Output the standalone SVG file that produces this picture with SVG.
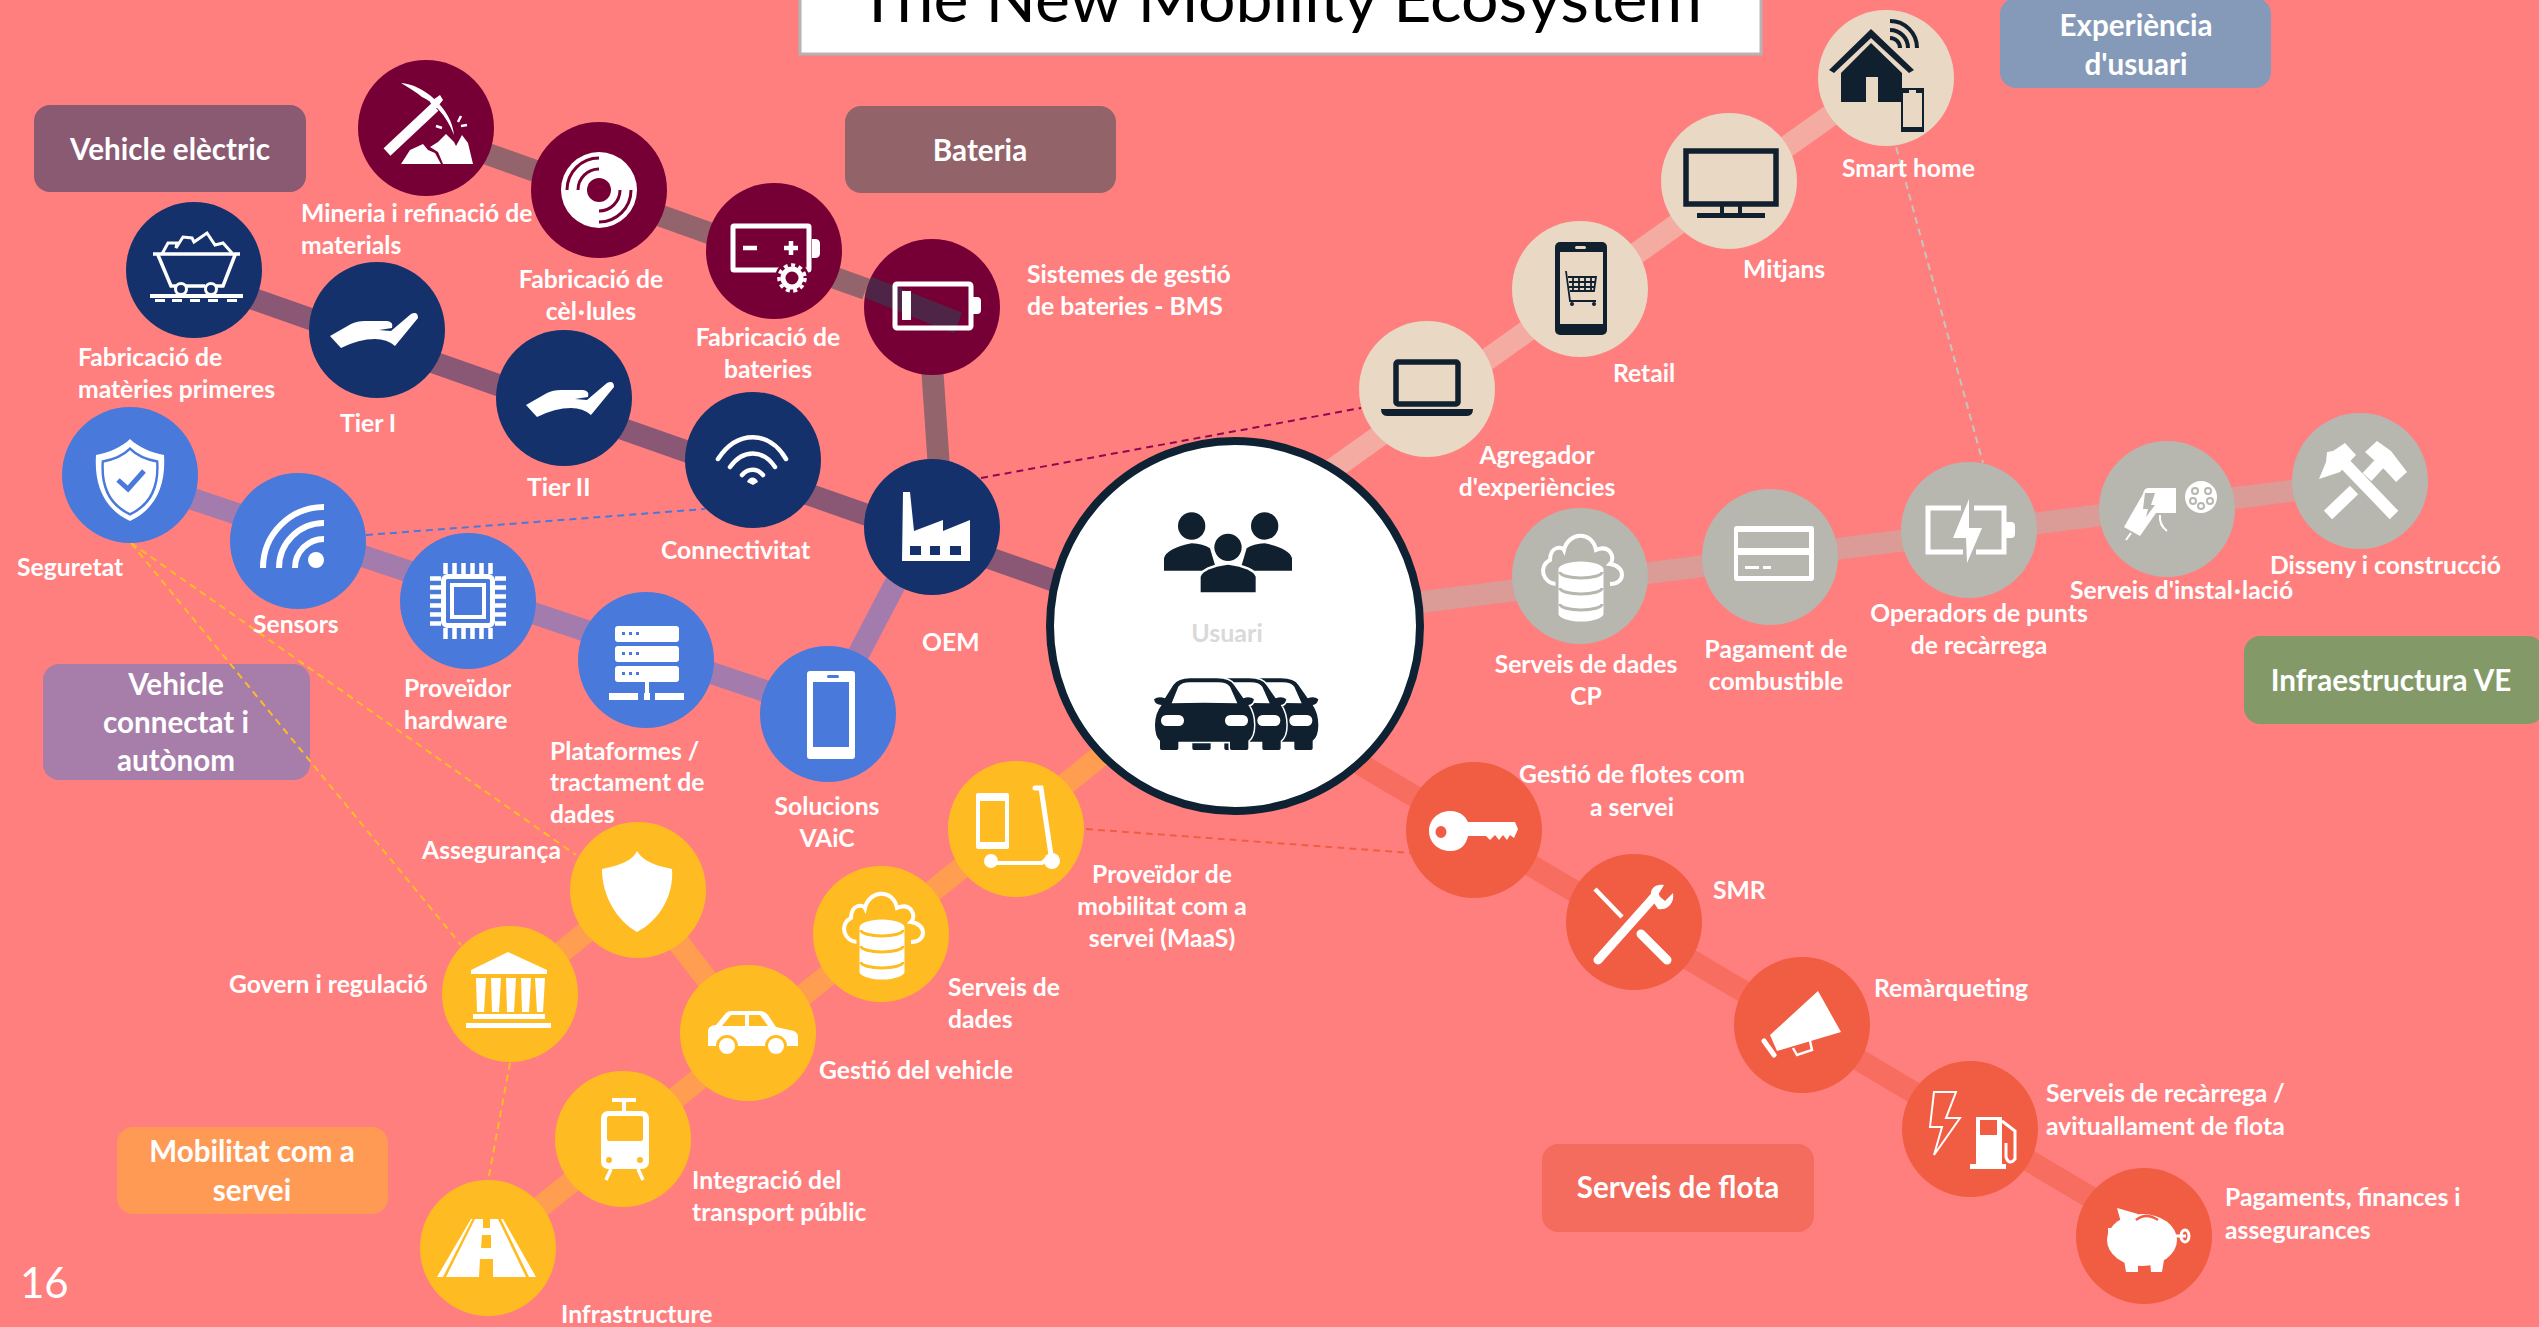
<svg xmlns="http://www.w3.org/2000/svg" xmlns:xlink="http://www.w3.org/1999/xlink" width="2539" height="1327" viewBox="0 0 2539 1327">
<style>
text{font-family:Lato,"Liberation Sans",sans-serif}
.l{font-size:24.7px;font-weight:700;fill:#fff}
.m{text-anchor:middle}
.b{font-size:29.6px;font-weight:700;fill:#fff;text-anchor:middle}
.box{stroke:none}
.d{fill:currentColor}
.ic{fill:#fff}
.s{fill:none;stroke:#fff}
.dk .ic{fill:#10202f}
.dk .s{stroke:#10202f}
.dk .d{fill:currentColor}
.maroon{color:#760036}.navy{color:#15316b}.blue{color:#4879db}.yellow{color:#ffbc22}.beige{color:#e9d8c4}.grey{color:#b7b7b0}.red{color:#f05d43}
.c{fill:none;stroke-width:22;stroke-opacity:.5}
.cm{stroke:#274a58}.cn{stroke:#15316b}.cb{stroke:#4879db}.cy{stroke:#ffbc22}.cg{stroke:#e9d8c4}.cgr{stroke:#b7b7b0}.cr{stroke:#f05d43}
.dash{fill:none;stroke-width:2;stroke-dasharray:7 5}
</style>
<defs>
<clipPath id="bmsclip"><circle cx="932" cy="307" r="68"/></clipPath>
<g id="hand"><path d="M-47,6 L-26,-6 Q-20,-9 -12,-9 L10,-9 Q17,-8 15,-2 L2,0 L14,1 L34,-16 Q41,-19 41,-12 L18,16 Q10,9 -2,9 Q-18,9 -36,18 Z"/></g>
<g id="dbcloud">
<path class="s" stroke-width="4" d="M-22,8 C-38,8 -42,-10 -30,-16 C-30,-30 -18,-30 -16,-26 C-12,-44 12,-46 16,-26 C30,-32 36,-18 30,-12 C46,-10 46,8 30,8"/>
<path d="M-23,-7 A24,9 0 0 1 25,-7 V38 A24,9 0 0 1 -23,38 Z" fill="#fff" stroke="currentColor" stroke-width="3"/>
<path d="M-20,-4 A21,6 0 0 0 22,-4 M-20,12 A21,6 0 0 0 22,12 M-20,28 A21,6 0 0 0 22,28" fill="none" stroke="currentColor" stroke-width="3"/>
</g>
<g id="car">
<path d="M480,775 H560 Q600,775 612,795 L640,835 Q660,828 672,838 Q668,855 655,855 Q672,880 672,915 Q672,950 655,962 V985 Q655,990 650,990 H605 Q600,990 600,985 V965 H445 V985 Q445,990 440,990 H395 Q390,990 390,985 V962 Q375,950 375,915 Q375,880 395,855 Q375,855 372,838 Q385,828 405,835 L430,795 Q445,775 480,775Z" fill="#10202f" stroke="#fff" stroke-width="9" paint-order="stroke"/>
<path d="M425,850 L445,800 Q455,787 480,787 H565 Q590,787 600,800 L622,850 Q520,846 425,850Z" fill="#fff"/>
<rect x="393" y="885" width="69" height="33" rx="16" fill="#fff"/>
<rect x="585" y="885" width="69" height="33" rx="16" fill="#fff"/>
</g>
</defs>
<rect width="2539" height="1327" fill="#ff7f7f"/>

<g id="title"><rect x="800" y="-6" width="961" height="60" fill="#fff" stroke="#b4b4b4" stroke-width="3"/><text x="858" y="22" font-size="64" textLength="844" lengthAdjust="spacingAndGlyphs" fill="#000">The New Mobility Ecosystem</text></g>

<g id="box-ve"><rect class="box" x="34" y="105" width="272" height="87" rx="16" fill="#8a5972"/><text class="b" x="170" y="160">Vehicle elèctric</text></g>
<g id="box-bateria"><rect class="box" x="845" y="106" width="271" height="87" rx="16" fill="#93636a"/><text class="b" x="980" y="161">Bateria</text></g>
<g id="box-cav"><rect class="box" x="43" y="664" width="267" height="116" rx="16" fill="#a77daa"/><text class="b"><tspan x="176" y="695">Vehicle</tspan><tspan x="176" y="733">connectat i</tspan><tspan x="176" y="771">autònom</tspan></text></g>
<g id="box-maas"><rect class="box" x="117" y="1127" width="271" height="87" rx="16" fill="#ff9a55"/><text class="b"><tspan x="252" y="1162">Mobilitat com a</tspan><tspan x="252" y="1201">servei</tspan></text></g>
<g id="box-ux"><rect class="box" x="2000" y="-2" width="271" height="90" rx="16" fill="#8599b8"/><text class="b"><tspan x="2136" y="36">Experiència</tspan><tspan x="2136" y="75">d'usuari</tspan></text></g>
<g id="box-infra"><rect class="box" x="2244" y="636" width="300" height="88" rx="16" fill="#839a68"/><text class="b" x="2391" y="691">Infraestructura VE</text></g>
<g id="box-flota"><rect class="box" x="1542" y="1144" width="272" height="88" rx="16" fill="#f46c5e"/><text class="b" x="1678" y="1198">Serveis de flota</text></g>

<g id="connectors">
<path class="c cm" d="M426,132 L866,289"/>
<path class="c cm" d="M928,307 L943,527"/>
<path class="c cn" d="M194,278 L1100,597"/>
<path class="c cb" d="M130,478 L828,712"/>
<path class="c cb" d="M826,716 L925,527"/>
<path class="c cy" d="M488,1249 L1150,716"/>
<path class="c cy" d="M510,994 L638,890 L748,1033"/>
<path class="c cg" d="M1240,535 L1886,76"/>
<path class="c cgr" d="M1235,626 L2360,482"/>
<path class="c cr" d="M1235,690 L2144,1229"/>
<path class="dash" stroke="#8b0a50" d="M981,478 L1361,408"/>
<path class="dash" stroke="#4879db" d="M366,535 L705,509"/>
<path class="dash" stroke="#ffbc22" d="M131,543 L576,855 M131,543 L461,945 M510,1063 L488,1181"/>
<path class="dash" stroke="#f05d43" d="M1086,829 L1411,853"/>
<path class="dash" stroke="#c4c6be" d="M1893,136 L1983,463"/>
</g>

<g id="n-bms" class="maroon"><circle class="d" cx="932" cy="307" r="68"/>
<path class="c cm" clip-path="url(#bmsclip)" d="M850,280 L958,323"/>
<g class="ic" transform="translate(932,307)"><rect class="s" x="-37" y="-23" width="76" height="44" rx="2" stroke-width="5"/><path d="M41,-10 h4 q4,0 4,4 v9 q0,4 -4,4 h-4z"/><rect x="-30" y="-16" width="9" height="29"/></g>
<text class="l"><tspan x="1027" y="283">Sistemes de gestió</tspan><tspan x="1027" y="315">de bateries - BMS</tspan></text></g>

<g id="n-mining" class="maroon"><circle class="d" cx="426" cy="128" r="68"/>
<g class="ic" transform="translate(426,128)"><path class="s" stroke-width="10" d="M9,-21 L-39,24"/><path d="M-25,-45 C-4,-44 26,-20 28,7 C20,-14 6,-27 -4,-31 C-10,-36 -18,-41 -25,-45Z M4,-26 L14,-33 L17,-28 L9,-18Z"/><path d="M-25,36 L-16,22 L-3,16 L2,22 L9,25 L15,36Z M17,36 L12,24 L4,19 L12,14 L20,6 L28,14 L30,18 L36,7 L42,15 L47,36Z"/><path class="s" stroke-width="2.500" d="M32,-6 L35,-12 M35,-2 L41,-3 M10,-2 L16,0"/></g>
<text class="l"><tspan x="301" y="222">Mineria i refinació de</tspan><tspan x="301" y="254">materials</tspan></text></g>

<g id="n-cells" class="maroon"><circle class="d" cx="599" cy="190" r="68"/>
<g transform="translate(599,190)"><circle r="38" fill="#fff"/><circle r="12" fill="currentColor"/><path d="M-32,0 A32,32 0 0 1 0,-32 M-21,0 A21,21 0 0 1 0,-21 M32,0 A32,32 0 0 1 0,32 M21,0 A21,21 0 0 1 0,21" fill="none" stroke="currentColor" stroke-width="3"/></g>
<text class="l m"><tspan x="591" y="288">Fabricació de</tspan><tspan x="591" y="320">cèl<tspan dx="2">·</tspan><tspan dx="2">lules</tspan></tspan></text></g>

<g id="n-battery" class="maroon"><circle class="d" cx="774" cy="251" r="68"/>
<g class="ic" transform="translate(774,251)"><rect class="s" x="-41" y="-25" width="76" height="44" rx="1" stroke-width="5"/><path d="M38,-12 h3 q5,0 5,5 v9 q0,5 -5,5 h-3z"/><path class="s" stroke-width="4.500" d="M-31,-3 H-17 M10,-3 H24 M17,-10 V4"/><circle cx="18" cy="27" r="17" fill="currentColor"/><circle class="s" cx="18" cy="27" r="9" stroke-width="5"/><circle class="s" cx="18" cy="27" r="13" stroke-width="3.500" stroke-dasharray="4 3.500"/></g>
<text class="l m"><tspan x="768" y="346">Fabricació de</tspan><tspan x="768" y="378">bateries</tspan></text></g>

<g id="n-raw" class="navy"><circle class="d" cx="194" cy="270" r="68"/>
<g class="ic" transform="translate(194,270)"><path class="s" stroke-width="3" d="M-32,-16 L-26,-27 L-17,-27 L-18,-22 L-11,-33 L-2,-32 L0,-28 L13,-37 L21,-25 L29,-27 L38,-17"/><path class="s" stroke-width="3.500" d="M-41,-16 H46 M-36,-15 L-23,16 H-18 M-8,16 H11 M22,16 H29 L41,-15"/><circle class="s" cx="-13" cy="19" r="5.500" stroke-width="3"/><circle class="s" cx="17" cy="19" r="5.500" stroke-width="3"/><path d="M-44,24 H49 V28 H-44Z M-39,29 h10 v3 h-10z M-22,29 h10 v3 h-10z M-4,29 h10 v3 h-10z M14,29 h10 v3 h-10z M33,29 h10 v3 h-10z"/></g>
<text class="l"><tspan x="78" y="366">Fabricació de</tspan><tspan x="78" y="398">matèries primeres</tspan></text></g>

<g id="n-tier1" class="navy"><circle class="d" cx="377" cy="330" r="68"/>
<g class="ic" transform="translate(377,330)"><use xlink:href="#hand" href="#hand"/></g><text class="l" x="340" y="432">Tier I</text></g>
<g id="n-tier2" class="navy"><circle class="d" cx="564" cy="398" r="68"/>
<g class="ic" transform="translate(573,399)"><use xlink:href="#hand" href="#hand"/></g><text class="l" x="527" y="496">Tier II</text></g>

<g id="n-conn" class="navy"><circle class="d" cx="753" cy="460" r="68"/>
<g class="ic" transform="translate(753,460)"><path class="s" stroke-width="4.500" stroke-linecap="round" d="M-35,-1 C-16,-30 16,-30 33,-1 M-23,7 C-10,-11 10,-11 22,7 M-11,15 C-5,8 4,8 10,15"/><path d="M-6,22 C-4,16 3,16 5,22 L0,25Z"/></g>
<text class="l" x="661" y="559">Connectivitat</text></g>

<g id="n-oem" class="navy"><circle class="d" cx="932" cy="527" r="68"/>
<g class="ic" transform="translate(932,527)"><path d="M-30,34 L-29,-35 L-22,-35 L-18,4 L11,-7 V4 L38,-7 V34Z"/><path fill="currentColor" d="M-22,19 h11 v9 h-11z M-2,19 h10 v9 h-10z M18,19 h11 v9 h-11z"/></g>
<text class="l" x="922" y="651">OEM</text></g>

<g id="n-security" class="blue"><circle class="d" cx="130" cy="475" r="68"/>
<g class="ic" transform="translate(130,475)"><path d="M0,-36 C8,-28 22,-22 34,-20 C36,10 26,34 0,46 C-26,34 -36,10 -34,-20 C-22,-22 -8,-28 0,-36Z"/><path d="M0,-36 C8,-28 22,-22 34,-20 C36,10 26,34 0,46 C-26,34 -36,10 -34,-20 C-22,-22 -8,-28 0,-36Z" transform="translate(0,2.500) scale(.8)" fill="none" stroke="currentColor" stroke-width="3"/><path d="M-12,5 L-2,14 L14,-4" fill="none" stroke="currentColor" stroke-width="5"/></g>
<text class="l" x="17" y="576">Seguretat</text></g>

<g id="n-sensors" class="blue"><circle class="d" cx="298" cy="541" r="68"/>
<g class="ic" transform="translate(298,541)"><circle cx="18" cy="19" r="8"/><path class="s" stroke-width="6" d="M-35,27 A61,61 0 0 1 26,-34 M-19,27 A45,45 0 0 1 26,-18 M-3,27 A29,29 0 0 1 26,-2"/></g>
<text class="l" x="253" y="633">Sensors</text></g>

<g id="n-hw" class="blue"><circle class="d" cx="468" cy="601" r="68"/>
<g class="ic" transform="translate(468,601)"><rect class="s" x="-24.500" y="-24.500" width="49" height="49" rx="4" stroke-width="5"/><rect class="s" x="-16" y="-16" width="32" height="32" stroke-width="4"/><path class="s" stroke-width="4.500" d="M-38,-22.500 H-27 M-38,-13.500 H-27 M-38,-4.500 H-27 M-38,4.500 H-27 M-38,13.500 H-27 M-38,22.500 H-27 M38,-22.500 H27 M38,-13.500 H27 M38,-4.500 H27 M38,4.500 H27 M38,13.500 H27 M38,22.500 H27 M-22.500,-38 V-27 M-13.500,-38 V-27 M-4.500,-38 V-27 M4.500,-38 V-27 M13.500,-38 V-27 M22.500,-38 V-27 M-22.500,38 V27 M-13.500,38 V27 M-4.500,38 V27 M4.500,38 V27 M13.500,38 V27 M22.500,38 V27"/></g>
<text class="l"><tspan x="404" y="697">Proveïdor</tspan><tspan x="404" y="729">hardware</tspan></text></g>

<g id="n-platform" class="blue"><circle class="d" cx="646" cy="660" r="68"/>
<g class="ic" transform="translate(646,660)"><rect x="-31" y="-34" width="64" height="16" rx="3"/><rect x="-31" y="-14" width="64" height="16" rx="3"/><rect x="-31" y="6" width="64" height="16" rx="3"/><path fill="currentColor" d="M-24,-28h3v3h-3z M-17,-28h3v3h-3z M-10,-28h3v3h-3z M-24,-8h3v3h-3z M-17,-8h3v3h-3z M-10,-8h3v3h-3z M-24,12h3v3h-3z M-17,12h3v3h-3z M-10,12h3v3h-3z"/><path d="M-1,22h4v11h-4z M-37,33h29v7h-29z M-2,33h6v7h-6z M9,33h29v7h-29z"/></g>
<text class="l"><tspan x="550" y="760">Plataformes /</tspan><tspan x="550" y="791">tractament de</tspan><tspan x="550" y="823">dades</tspan></text></g>

<g id="n-vaic" class="blue"><circle class="d" cx="828" cy="714" r="68"/>
<g class="ic" transform="translate(828,714)"><rect x="-21" y="-43" width="48" height="88" rx="3"/><rect x="-15" y="-32" width="36" height="65" fill="currentColor"/><rect x="-1" y="-39" width="12" height="3" rx="1.500" fill="currentColor"/></g>
<text class="l m"><tspan x="827" y="815">Solucions</tspan><tspan x="827" y="847">VAiC</tspan></text></g>

<g id="n-ins" class="yellow"><circle class="d" cx="638" cy="890" r="68"/>
<g class="ic" transform="translate(638,890)"><path d="M-1,-39 C5,-28 20,-24 34,-21 C36,5 22,30 -1,42 C-22,30 -36,5 -36,-21 C-22,-24 -6,-28 -1,-39Z"/></g>
<text class="l" x="422" y="859">Assegurança</text></g>

<g id="n-gov" class="yellow"><circle class="d" cx="510" cy="994" r="68"/>
<g class="ic" transform="translate(510,994)"><path d="M-39,-24 L-2,-42 L37,-24 V-20 H-39Z M-37,20 H35 V25 H-37Z M-44,29 H41 V34 H-44Z"/><path d="M-34,-16 H-24 L-26,18 H-33Z M-19,-16 H-9 L-11,18 H-18Z M-4,-16 H6 L4,18 H-3Z M11,-16 H21 L19,18 H12Z M25,-16 H35 L33,18 H27Z"/></g>
<text class="l" x="229" y="993">Govern i regulació</text></g>

<g id="n-vehicle" class="yellow"><circle class="d" cx="748" cy="1033" r="68"/>
<g class="ic" transform="translate(748,1033)"><path d="M-40,13 V-3 Q-38,-8 -32,-8 L-22,-20 Q-20,-22 -16,-22 H12 Q17,-22 20,-18 L28,-6 L46,-2 Q50,0 50,4 V13Z"/><path fill="currentColor" d="M-26,-7 L-17,-18 H-3 V-7Z M1,-18 H12 L20,-7 H1Z"/><circle cx="-21" cy="13" r="11" fill="currentColor"/><circle cx="28" cy="13" r="11" fill="currentColor"/><circle cx="-21" cy="13" r="8"/><circle cx="28" cy="13" r="8"/></g>
<text class="l" x="819" y="1079">Gestió del vehicle</text></g>

<g id="n-data" class="yellow"><circle class="d" cx="881" cy="934" r="68"/>
<g transform="translate(881,934)"><use xlink:href="#dbcloud" href="#dbcloud"/></g>
<text class="l"><tspan x="948" y="996">Serveis de</tspan><tspan x="948" y="1028">dades</tspan></text></g>

<g id="n-mobility" class="yellow"><circle class="d" cx="1016" cy="829" r="68"/>
<g class="ic" transform="translate(1016,829)"><rect x="-40" y="-36" width="33" height="56" rx="2"/><rect x="-36" y="-28" width="25" height="41" fill="currentColor"/><path class="s" stroke-width="5" stroke-linecap="round" d="M19,-41 H25 L35,26"/><path class="s" stroke-width="4" d="M-20,34 H26 L35,26"/><circle cx="-25" cy="32" r="7"/><circle cx="36" cy="32" r="8"/></g>
<text class="l m"><tspan x="1162" y="883">Proveïdor de</tspan><tspan x="1162" y="915">mobilitat com a</tspan><tspan x="1162" y="947">servei (MaaS)</tspan></text></g>

<g id="n-public" class="yellow"><circle class="d" cx="623" cy="1139" r="68"/>
<g class="ic" transform="translate(623,1139)"><path class="s" stroke-width="4" d="M-11,-39 H13 M1,-39 V-28"/><rect x="-22" y="-28" width="48" height="58" rx="7"/><rect x="-16" y="-23" width="36" height="25" rx="2" fill="currentColor"/><circle cx="-14" cy="21" r="3" fill="currentColor"/><circle cx="17" cy="21" r="3" fill="currentColor"/><path class="s" stroke-width="3.500" d="M-12,30 L-17,41 M15,30 L20,41"/></g>
<text class="l"><tspan x="692" y="1189">Integració del</tspan><tspan x="692" y="1221">transport públic</tspan></text></g>

<g id="n-infra" class="yellow"><circle class="d" cx="488" cy="1248" r="68"/>
<g class="ic" transform="translate(488,1248)"><path fill-rule="evenodd" d="M-13,-29 H-5 V-20 H2 V-29 H10 L38,29 H5 V11 H-8 L-9,29 H-42Z M-6,-13 H3 V0 H-7Z M-17,-29 H-15.500 L-45,29 H-51Z M13,-29 H15 L48,29 H41Z"/></g>
<text class="l" x="561" y="1323">Infrastructure</text></g>

<g id="n-home" class="beige dk"><circle class="d" cx="1886" cy="78" r="68"/>
<g class="ic" transform="translate(1886,78)"><path d="M-15,-49 L28,-8 L23,-5 L-15,-40 L-52,-5 L-57,-8Z"/><path d="M-15,-35 L16,-5 V24 H-8 V-1 H-20 V24 H-45 V-5Z"/><path fill-rule="evenodd" d="M15,10 H38 V54 H15Z M17,15 V49 H36 V15Z M23,12 V15 H30 V12Z"/><path class="s" stroke-width="4" d="M4,-40 A10,10 0 0 1 14,-30 M4,-48 A18,18 0 0 1 22,-30 M4,-57 A27,27 0 0 1 31,-30"/></g>
<text class="l" x="1842" y="177">Smart home</text></g>

<g id="n-media" class="beige dk"><circle class="d" cx="1729" cy="181" r="68"/>
<g class="ic" transform="translate(1731,181)"><rect class="s" x="-45" y="-30" width="90" height="53" stroke-width="5.500"/><path d="M-11,25 H-7 V32 H7 V25 H11 V32 H34 V37 H-34 V32 H-11Z"/></g>
<text class="l" x="1743" y="278">Mitjans</text></g>

<g id="n-retail" class="beige dk"><circle class="d" cx="1580" cy="289" r="68"/>
<g class="ic" transform="translate(1581,289)"><rect x="-26" y="-47" width="52" height="93" rx="5"/><rect x="-21" y="-37" width="43" height="72" fill="currentColor"/><rect x="-6" y="-43" width="11" height="3" rx="1.500" fill="currentColor"/><path class="s" stroke-width="1.800" d="M-15,-18 L-11,12 H15 M-13,-12 H15 L13,2 H-11 M-8,-12 V2 M-2,-12 V2 M4,-12 V2 M10,-12 V2 M-12,-7 H14 M-12,-2 H14"/><circle cx="-9" cy="15" r="2"/><circle cx="13" cy="15" r="2"/></g>
<text class="l" x="1613" y="382">Retail</text></g>

<g id="n-agg" class="beige dk"><circle class="d" cx="1427" cy="389" r="68"/>
<g class="ic" transform="translate(1427,389)"><rect class="s" x="-31" y="-27" width="62" height="42" rx="2" stroke-width="5.500"/><path d="M-46,20 H46 Q46,27 40,27 H-40 Q-46,27 -46,20Z"/></g>
<text class="l m"><tspan x="1537" y="464">Agregador</tspan><tspan x="1537" y="496">d'experiències</tspan></text></g>

<g id="n-cpdata" class="grey"><circle class="d" cx="1580" cy="576" r="68"/>
<g transform="translate(1580,576)"><use xlink:href="#dbcloud" href="#dbcloud"/></g>
<text class="l m"><tspan x="1586" y="673">Serveis de dades</tspan><tspan x="1586" y="705">CP</tspan></text></g>

<g id="n-pay" class="grey"><circle class="d" cx="1770" cy="557" r="68"/>
<g transform="translate(1770,557)"><rect x="-36" y="-31" width="80" height="55" rx="3" fill="#fff"/><rect x="-32" y="-25" width="71" height="16" fill="currentColor"/><rect x="-32" y="-2" width="71" height="21" fill="currentColor"/><rect x="-25" y="9" width="14" height="3" fill="#fff"/><rect x="-7" y="9" width="8" height="3" fill="#fff"/></g>
<text class="l m"><tspan x="1776" y="658">Pagament de</tspan><tspan x="1776" y="690">combustible</tspan></text></g>

<g id="n-cpo" class="grey"><circle class="d" cx="1969" cy="530" r="68"/>
<g class="ic" transform="translate(1968,530)"><path class="s" stroke-width="5" d="M-7,-22 H-40 V22 H-5 M6,-22 H36 V22 H8"/><path d="M38,-8 h5 q4,0 4,4 v8 q0,4 -4,4 h-5z M1,-31 L-15,8 H-2 L-1,33 L14,-2 H1Z"/></g>
<text class="l m"><tspan x="1979" y="622">Operadors de punts</tspan><tspan x="1979" y="654">de recàrrega</tspan></text></g>

<g id="n-install" class="grey"><circle class="d" cx="2167" cy="509" r="68"/>
<g class="ic" transform="translate(2167,509)"><path d="M-19,-21 H9 V4 H-11 L-27,27 L-43,18 L-24,-15 Q-23,-21 -19,-21Z"/><path fill="currentColor" d="M-22,-16 H-12 L-16,-4 H-12 L-21,8 L-19,0 H-24Z"/><path class="s" stroke-width="2" d="M-7,6 Q-8,16 0,22 M-36,24 L-41,31"/><circle cx="34" cy="-12" r="16"/><g fill="none" stroke="currentColor" stroke-width="2"><circle cx="28" cy="-18" r="3"/><circle cx="41" cy="-18" r="3"/><circle cx="26" cy="-8" r="3"/><circle cx="43" cy="-8" r="3"/><circle cx="34" cy="-3" r="3"/></g></g>
<text class="l" x="2070" y="599">Serveis d'instal<tspan dx="2">·</tspan><tspan dx="2">lació</tspan></text></g>

<g id="n-design" class="grey"><circle class="d" cx="2360" cy="481" r="68"/>
<g class="ic" transform="translate(2361,481)"><path class="s" stroke-width="12" d="M-15,-16 L33,34 M-33,34 L-7,9 M6,-4 L19,-18"/><path d="M-42,-2 L-35,-19 L-34,-29 L-28,-30 L-16,-38 L-5,-26 L-21,-9Z M16,-40 L30,-30 L46,-9 L35,1 L24,-11 L4,-29Z"/></g>
<text class="l" x="2270" y="574">Disseny i construcció</text></g>

<g id="n-key" class="red"><circle class="d" cx="1474" cy="830" r="68"/>
<g class="ic" transform="translate(1474,830)"><path fill-rule="evenodd" d="M-24,-19 C-12,-19 -8,-12 -6,-8 H41 L44,-1 L40,8 L36,5 L33,10 L29,5 L25,10 L21,5 L16,10 L12,6 H-6 C-8,14 -12,21 -24,21 C-36,21 -45,12 -45,1 C-45,-10 -36,-19 -24,-19Z M-33,-4 A5.500,6 0 1 0 -33,8 A5.500,6 0 1 0 -33,-4Z"/></g>
<text class="l m"><tspan x="1632" y="783">Gestió de flotes com</tspan><tspan x="1632" y="816">a servei</tspan></text></g>

<g id="n-smr" class="red"><circle class="d" cx="1634" cy="922" r="68"/>
<g class="ic" transform="translate(1634,922)"><path class="s" stroke-width="4.500" d="M-39,-33 L-12,-5"/><path class="s" stroke-width="9" stroke-linecap="round" d="M7,12 L33,38 M-36,38 L21,-26"/><path d="M18,-22 C14,-34 22,-38 30,-37 L24,-27 L31,-21 L39,-29 C41,-18 32,-11 24,-13Z"/></g>
<text class="l" x="1713" y="899">SMR</text></g>

<g id="n-remarq" class="red"><circle class="d" cx="1802" cy="1025" r="68"/>
<g class="ic" transform="translate(1802,1025)"><path d="M16,-34 L39,7 L-25,26 L-32,10Z"/><path class="s" stroke-width="5" stroke-linecap="round" d="M-38,16 L-28,30"/><path class="s" stroke-width="2.500" d="M-9,23 L-5,30 L10,25 L8,16"/></g>
<text class="l" x="1874" y="997">Remàrqueting</text></g>

<g id="n-fleetcharge" class="red"><circle class="d" cx="1970" cy="1129" r="68"/>
<g class="ic" transform="translate(1970,1129)"><path class="s" stroke-width="2" d="M-36,-37 H-14 L-24,-11 H-10 L-36,26 L-28,-2 H-40Z"/><path d="M6,-12 H32 V35 H36 V40 H0 V35 H6Z"/><rect x="10" y="-9" width="17" height="15" fill="currentColor"/><path class="s" stroke-width="3" d="M32,-8 L45,2 V30 Q39,37 36,28 V14"/></g>
<text class="l"><tspan x="2046" y="1102">Serveis de recàrrega /</tspan><tspan x="2046" y="1135">avituallament de flota</tspan></text></g>

<g id="n-finance" class="red"><circle class="d" cx="2144" cy="1236" r="68"/>
<g class="ic" transform="translate(2144,1236)"><ellipse cx="-2" cy="4" rx="35" ry="26"/><path d="M-27,-28 L-6,-22 L-22,-10Z M-36,-8 H-30 V10 H-36Z M-20,24 H-6 L-6,36 H-18Z M6,24 H20 L18,36 H7Z"/><path class="s" stroke-width="3" d="M32,0 H42 M41,-6 A4,6 0 1 0 41,6 A4,6 0 1 0 41,-6"/><path d="M-8,-16 Q2,-24 14,-16" fill="none" stroke="currentColor" stroke-width="2.500"/></g>
<text class="l"><tspan x="2225" y="1206">Pagaments, finances i</tspan><tspan x="2225" y="1239">assegurances</tspan></text></g>

<g id="n-user"><circle cx="1235" cy="626" r="185" fill="#fff" stroke="#0f2233" stroke-width="8"/>
<g transform="translate(1030,420) scale(.33333)">
<use xlink:href="#car" href="#car" x="193"/><use xlink:href="#car" href="#car" x="97"/><use xlink:href="#car" href="#car"/>
<g fill="#10202f"><circle cx="485" cy="318" r="41"/><circle cx="704" cy="318" r="41"/>
<path d="M402,452 V415 Q410,385 485,370 Q520,372 540,385 L560,452Z M786,452 V415 Q778,385 704,370 Q670,372 650,385 L630,452Z"/>
<circle cx="594" cy="382" r="41" stroke="#fff" stroke-width="14" paint-order="stroke"/>
<path d="M512,517 V470 Q520,445 594,434 Q668,445 677,470 V517Z" stroke="#fff" stroke-width="14" paint-order="stroke"/></g>
<path d="M505,522 H684 V540 H505Z" fill="#fff"/>
</g>
<text x="1227" y="642" font-size="25" font-weight="700" fill="#d9d9d9" text-anchor="middle">Usuari</text></g>

<text x="20" y="1298" font-size="42" fill="#fff">16</text>
</svg>
